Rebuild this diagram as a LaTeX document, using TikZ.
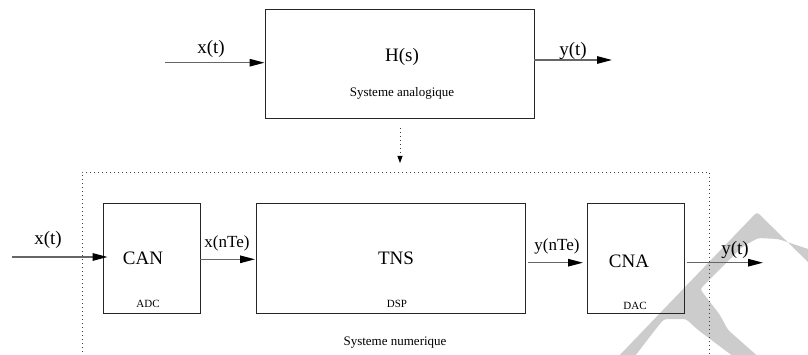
\documentclass[tikz,border=0pt]{standalone}
\usepackage{fontspec}
\setmainfont{Liberation Serif}
\usetikzlibrary{arrows.meta}
\begin{document}
\begin{tikzpicture}[x=1pt,y=-1pt,
  blk/.style={draw=black!85,line width=0.9pt,rectangle,inner sep=0pt},
  arr/.style={draw=black!60,line width=1.3pt,-{Triangle[length=15pt,width=7.5pt,color=black,fill=black]}},
  big/.style={font=\fontsize{19}{21}\selectfont,inner sep=0pt},
  mid/.style={font=\fontsize{17}{19}\selectfont,inner sep=0pt},
  small/.style={font=\fontsize{13}{15}\selectfont,inner sep=0pt},
  tiny/.style={font=\fontsize{11}{13}\selectfont,inner sep=0pt},
  dots/.style={draw=black!75,line width=0.8pt,dash pattern=on 0.8pt off 3.2pt}]
\useasboundingbox (0,0) rectangle (808,355);
% watermark
\begin{scope}
\clip (0,0) rectangle (808,355);
\fill[gray!40,rounded corners=3pt] (615,360) -- (757,212) -- (814,268) -- (814,251)
  -- (778,239) -- (758,238) -- (742,247) -- (700,289) -- (720,315) -- (728,330) -- (762,360)
  -- (738,360) -- (698,330) -- (686,319) -- (664,319) -- (655,330) -- (632,360) -- cycle;
\end{scope}
% analog system
\node[blk,minimum width=269pt,minimum height=109pt] (hs) at (399.5,63.8) {};
\node[big] (hslbl) at (402,57) {H(s)};
\node[small] (ana) at (402,93) {Systeme analogique};
\coordinate (xa) at (165,62.7);
\coordinate (ya) at (612,60);
\draw[arr] (xa) -- (xa -| hs.west);
\draw[arr] (hs.east |- ya) -- (ya);
\node[big] (xtl) at (211,49) {x(t)};
\node[big] (ytl) at (573,51) {y(t)};
% dotted arrow
\coordinate (d1) at (400,128);
\coordinate (d2) at (400,163);
\draw[dots,-{Triangle[length=7pt,width=5pt,color=black,fill=black]}] (d1) -- (d2);
% dotted frame
\coordinate (f1) at (82,356);
\coordinate (f2) at (82,172);
\coordinate (f3) at (709,172);
\coordinate (f4) at (709,356);
\draw[dots] (f1) -- (f2) -- (f3) -- (f4);
% digital system
\node[blk,minimum width=97pt,minimum height=110pt] (can) at (151.5,258) {};
\node[blk,minimum width=269pt,minimum height=110pt] (tns) at (390.5,258) {};
\node[blk,minimum width=97pt,minimum height=110pt] (cna) at (635.5,258) {};
\node[big] (canl) at (143,258) {CAN};
\node[tiny] (adc) at (148,304) {ADC};
\node[big] (tnsl) at (396,258) {TNS};
\node[tiny] (dsp) at (397,304) {DSP};
\node[big] (cnal) at (629,261) {CNA};
\node[tiny] (dac) at (635,306) {DAC};
\node[small] (num) at (395,343) {Systeme numerique};
\coordinate (xb) at (12,257);
\coordinate (xn) at (255,259.3);
\coordinate (yn) at (583,262.7);
\coordinate (yb) at (763,262.7);
\draw[arr] (xb) -- ([xshift=5pt]xb -| can.west);
\draw[arr] (can.east |- xn) -- (xn);
\draw[arr] ([xshift=3pt]tns.east |- yn) -- (yn);
\draw[arr] ([xshift=3pt]cna.east |- yb) -- (yb);
\node[big] (xbl) at (48,240) {x(t)};
\node[mid] (xnl) at (227,243) {x(nTe)};
\node[mid] (ynl) at (557,246) {y(nTe)};
\node[big] (ybl) at (735,250) {y(t)};
\end{tikzpicture}
\end{document}
